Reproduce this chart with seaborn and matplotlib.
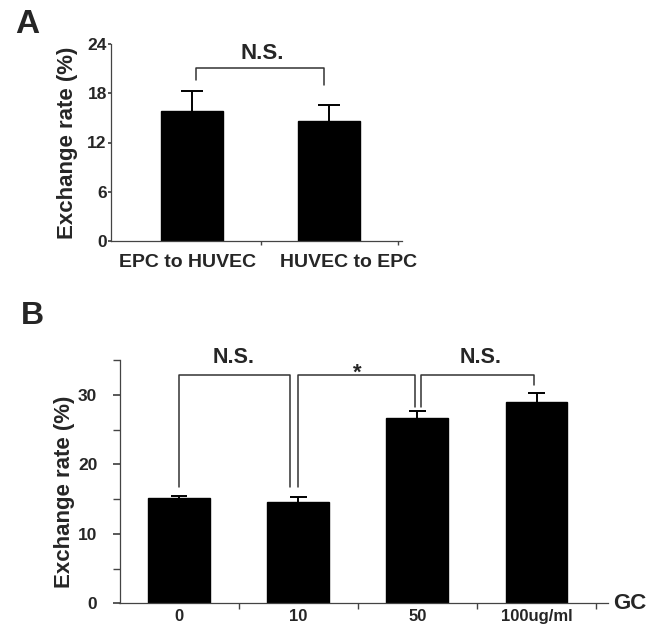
"""Exchange rate bar charts (panels A and B)."""

import matplotlib

matplotlib.use("Agg")
import matplotlib.pyplot as plt
import pandas as pd
import seaborn as sns

# Panel A data
a_groups = ["EPC to HUVEC", "HUVEC to EPC"]
a_means = [15.8, 14.6]
a_errs = [2.5, 2.0]
a_yticks = [0, 6, 12, 18, 24]

# Panel B data
b_groups = ["0", "10", "50", "100ug/ml"]
b_means = [15.1, 14.6, 26.6, 29.0]
b_errs = [0.35, 0.7, 1.0, 1.2]
b_yticks = [0, 10, 20, 30]

sns.set_theme(style="white")
plt.rcParams["font.family"] = ["Liberation Sans", "DejaVu Sans"]
plt.rcParams["font.weight"] = "bold"

fig = plt.figure(figsize=(6.62, 6.26), dpi=100)
W, H = 662, 626


def axes_px(left, top, right, bottom):
    return fig.add_axes([left / W, 1 - bottom / H, (right - left) / W, (bottom - top) / H])


def style_axes(ax):
    sns.despine(ax=ax)
    for side in ("left", "bottom"):
        ax.spines[side].set_color("#444444")
        ax.spines[side].set_linewidth(0.9)


def upper_errors(ax, x, means, errs, cap):
    tops = [m + e for m, e in zip(means, errs)]
    ax.vlines(x, means, tops, color="black", lw=1.4)
    ax.hlines(tops, [i - cap for i in x], [i + cap for i in x], color="black", lw=1.4)


def bracket(ax, x0, x1, y, y0, y1):
    ax.plot([x0, x0, x1, x1], [y0, y, y, y1], color="#333333", lw=1.1, clip_on=False)


# ---- Panel A ----
ax_a = axes_px(111, 44, 402, 241)
df_a = pd.DataFrame({"group": a_groups, "rate": a_means})
sns.barplot(data=df_a, x="group", y="rate", color="black", edgecolor="black",
            width=0.45, saturation=1, ax=ax_a)
upper_errors(ax_a, range(len(a_groups)), a_means, a_errs, 0.08)
ax_a.set_xlim(-0.59, 1.53)
ax_a.set_ylim(0, 24)
ax_a.set_yticks(a_yticks)
ax_a.set_yticklabels([str(t) for t in a_yticks], fontsize=12.5, fontweight="bold")
# excel-style labels sit a bit right of the second bar
ax_a.set_xticks([-0.03, 1.14])
ax_a.set_xticklabels(a_groups, fontsize=14, fontweight="bold")
ax_a.set_xticks([0.5, 1.5], minor=True)
ax_a.tick_params(axis="x", which="major", length=0, pad=9)
ax_a.tick_params(axis="x", which="minor", length=3, color="#444444", direction="out", bottom=True)
ax_a.tick_params(axis="y", length=2, pad=1, color="#444444", left=True)
ax_a.set_xlabel("")
ax_a.set_ylabel("Exchange rate (%)", fontsize=16, fontweight="bold")
ax_a.yaxis.set_label_coords(-0.112, 0.5)
style_axes(ax_a)
bracket(ax_a, 0.03, 0.96, 21.1, 19.6, 19.0)
ax_a.text(0.51, 21.6, "N.S.", ha="center", va="bottom", fontsize=16, fontweight="bold")

# ---- Panel B ----
ax_b = axes_px(119.5, 360, 608, 603.3)
df_b = pd.DataFrame({"dose": b_groups, "rate": b_means})
sns.barplot(data=df_b, x="dose", y="rate", color="black", edgecolor="black",
            width=0.52, saturation=1, ax=ax_b)
upper_errors(ax_b, range(len(b_groups)), b_means, b_errs, 0.07)
ax_b.set_xlim(-0.5, 3.6)
ax_b.set_ylim(0, 35)
ax_b.set_yticks(b_yticks)
ax_b.set_yticklabels([str(t) for t in b_yticks], fontsize=12.5, fontweight="bold")
ax_b.set_yticks([5, 15, 25, 35], minor=True)
ax_b.set_xticks(range(len(b_groups)))
ax_b.set_xticklabels(b_groups, fontsize=12, fontweight="bold")
ax_b.set_xticks([0.5, 1.5, 2.5, 3.5], minor=True)
ax_b.tick_params(axis="x", which="major", length=0, pad=4)
ax_b.tick_params(axis="x", which="minor", length=4, color="#444444", direction="out", bottom=True)
ax_b.tick_params(axis="y", which="both", length=5, pad=11, color="#444444", left=True)
ax_b.set_xlabel("")
ax_b.set_ylabel("Exchange rate (%)", fontsize=16, fontweight="bold")
ax_b.yaxis.set_label_coords(-0.092, 0.46)
style_axes(ax_b)
bracket(ax_b, 0.0, 0.93, 32.8, 16.8, 16.8)
bracket(ax_b, 1.0, 1.98, 32.8, 16.8, 28.3)
bracket(ax_b, 2.03, 2.98, 32.8, 28.3, 31.4)
ax_b.text(0.46, 33.8, "N.S.", ha="center", va="bottom", fontsize=15.5, fontweight="bold")
ax_b.text(1.5, 31.6, "*", ha="center", va="bottom", fontsize=16, fontweight="bold")
ax_b.text(2.53, 33.8, "N.S.", ha="center", va="bottom", fontsize=15.5, fontweight="bold")
ax_b.text(3.64, 0, "GC", ha="left", va="center", fontsize=16, fontweight="bold")

# panel letters
fig.text(15 / W, 1 - 9 / H, "A", ha="left", va="top", fontsize=24, fontweight="bold")
fig.text(21 / W, 1 - 301 / H, "B", ha="left", va="top", fontsize=23, fontweight="bold")

fig.savefig("out.png", dpi=100)
